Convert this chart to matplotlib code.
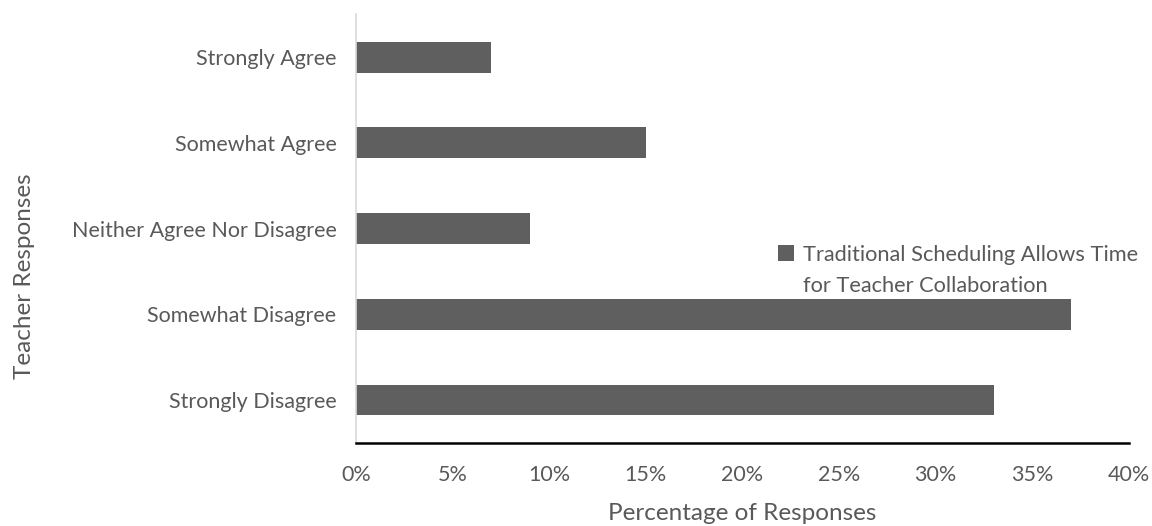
import numpy as np
import matplotlib.pyplot as plt
from matplotlib.ticker import PercentFormatter

plt.rcParams['font.family'] = ['Lato', 'DejaVu Sans']

responses = ["Strongly Disagree", "Somewhat Disagree", "Neither Agree Nor Disagree",
             "Somewhat Agree", "Strongly Agree"]
percent = [33, 37, 9, 15, 7]
series_name = "Traditional Scheduling Allows Time\nfor Teacher Collaboration"

text_color = "#595959"
bar_color = "#5f5f5f"

fig = plt.figure(figsize=(11.52, 5.26), dpi=100)
ax = fig.add_axes([0.309, 0.158, 0.671, 0.815])

y = np.arange(len(responses))
ax.barh(y, percent, height=0.36, color=bar_color, label=series_name)

ax.set_xlim(0, 40)
ax.set_ylim(-0.5, 4.5)
ax.xaxis.set_major_locator(plt.MultipleLocator(5))
ax.xaxis.set_major_formatter(PercentFormatter(decimals=0))
ax.set_yticks(y)
ax.set_yticklabels(responses)
ax.tick_params(length=0, labelsize=15.5, colors=text_color)
ax.tick_params(axis='x', pad=16)
ax.tick_params(axis='y', pad=14)

for side in ['top', 'right']:
    ax.spines[side].set_visible(False)
ax.spines['left'].set_color("#d9d9d9")
ax.spines['left'].set_linewidth(1.2)
ax.spines['bottom'].set_color("black")
ax.spines['bottom'].set_linewidth(1.8)

ax.set_xlabel("Percentage of Responses", fontsize=17.5, color=text_color, labelpad=13)
ax.set_ylabel("Teacher Responses", fontsize=17.5, color=text_color)
ax.yaxis.set_label_coords(-0.415, 0.39)

leg = ax.legend(loc='upper left', bbox_to_anchor=(0.546, 0.462), frameon=False,
                fontsize=15.7, handlelength=0.75, handleheight=0.75,
                handletextpad=0.4, borderaxespad=0, borderpad=0)
for t in leg.get_texts():
    t.set_color(text_color)
    t.set_linespacing(1.7)
# put the square next to the first line of the label
for column in leg._legend_handle_box.get_children():
    for row in column.get_children():
        row.align = "top"

plt.savefig("out.png", dpi=100)
